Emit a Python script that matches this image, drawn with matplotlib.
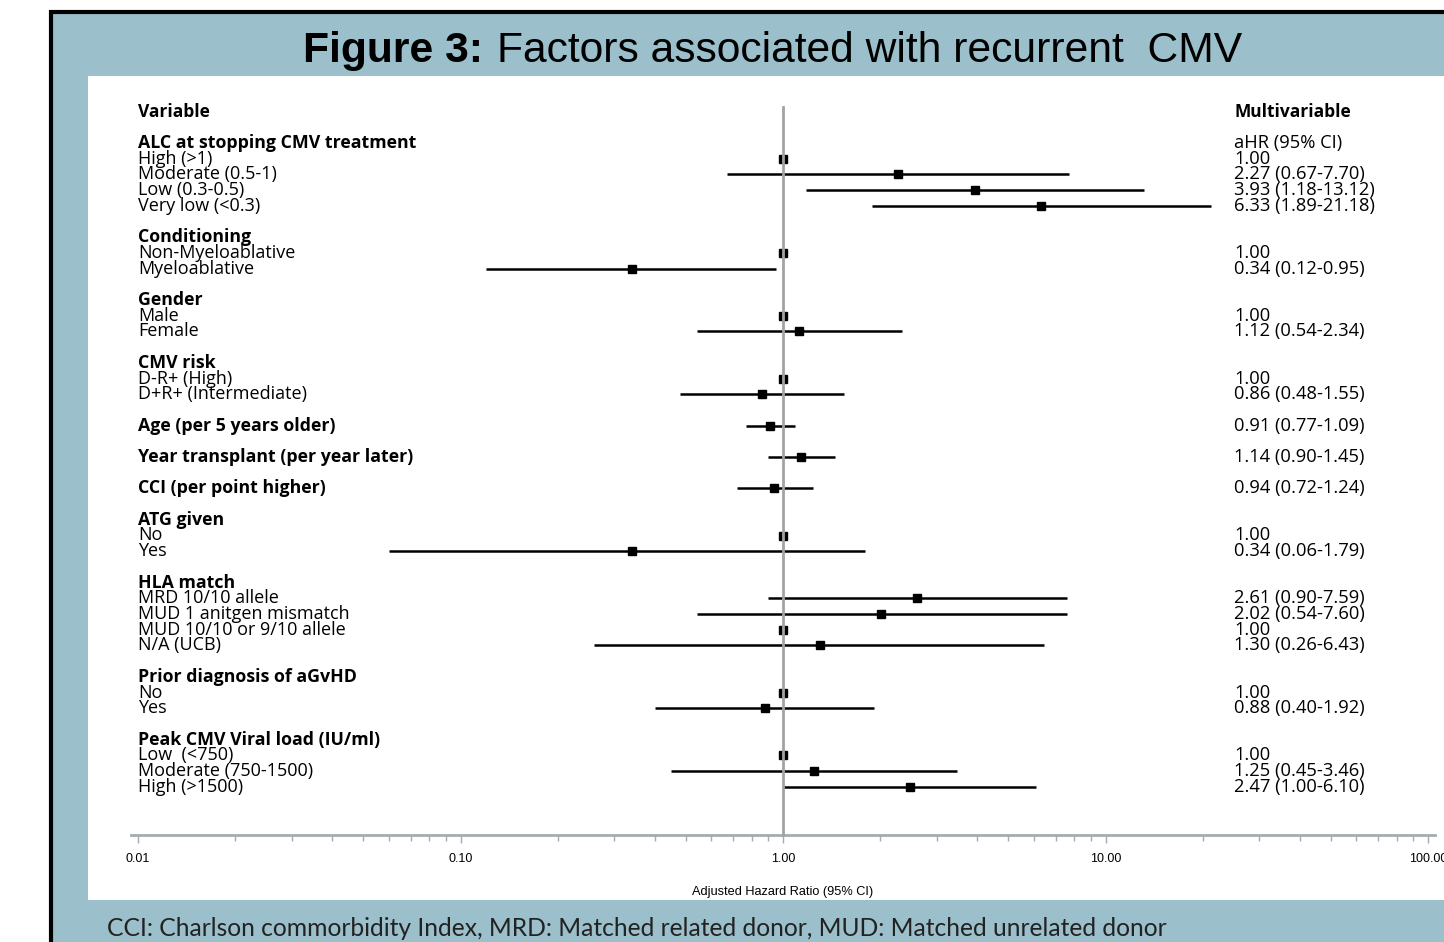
import numpy as np
import matplotlib
matplotlib.use('Agg')
import matplotlib.pyplot as plt
from matplotlib.patches import Rectangle
from matplotlib.transforms import blended_transform_factory

# rows of the forest plot (blank strings = spacer rows)
row_labels = ['ALC at stopping CMV treatment', 'High (>1)', 'Moderate (0.5-1)', 'Low (0.3-0.5)', 'Very low (<0.3)', '',
              'Conditioning', 'Non-Myeloablative', 'Myeloablative', '',
              'Gender', 'Male', 'Female', '',
              'CMV risk', 'D-R+ (High)', 'D+R+ (Intermediate)', '',
              'Age (per 5 years older)', '',
              'Year transplant (per year later)', '',
              'CCI (per point higher)', '',
              'ATG given', 'No', 'Yes', '',
              'HLA match', 'MRD 10/10 allele', 'MUD 1 anitgen mismatch', 'MUD 10/10 or 9/10 allele', 'N/A (UCB)', '',
              'Prior diagnosis of aGvHD', 'No', 'Yes', '',
              'Peak CMV Viral load (IU/ml)', 'Low  (<750)', 'Moderate (750-1500)', 'High (>1500)']
bold_rows = [0, 6, 10, 14, 18, 20, 22, 24, 28, 34, 38]
value_text = ['aHR (95% CI)', '1.00', '2.27 (0.67-7.70)', '3.93 (1.18-13.12)', '6.33 (1.89-21.18)', '',
              '', '1.00', '0.34 (0.12-0.95)', '',
              '', '1.00', '1.12 (0.54-2.34)', '',
              '', '1.00', '0.86 (0.48-1.55)', '',
              '0.91 (0.77-1.09)', '',
              '1.14 (0.90-1.45)', '',
              '0.94 (0.72-1.24)', '',
              '', '1.00', '0.34 (0.06-1.79)', '',
              '', '2.61 (0.90-7.59)', '2.02 (0.54-7.60)', '1.00', '1.30 (0.26-6.43)', '',
              '', '1.00', '0.88 (0.40-1.92)', '',
              '', '1.00', '1.25 (0.45-3.46)', '2.47 (1.00-6.10)']

# estimates (rows with a marker)
est_rows = [1, 2, 3, 4, 7, 8, 11, 12, 15, 16, 18, 20, 22, 25, 26, 29, 30, 31, 32, 35, 36, 39, 40, 41]
est = [1.00, 2.27, 3.93, 6.33, 1.00, 0.34, 1.00, 1.12, 1.00, 0.86, 0.91, 1.14, 0.94,
       1.00, 0.34, 2.61, 2.02, 1.00, 1.30, 1.00, 0.88, 1.00, 1.25, 2.47]
lo = [1.00, 0.67, 1.18, 1.89, 1.00, 0.12, 1.00, 0.54, 1.00, 0.48, 0.77, 0.90, 0.72,
      1.00, 0.06, 0.90, 0.54, 1.00, 0.26, 1.00, 0.40, 1.00, 0.45, 1.00]
hi = [1.00, 7.70, 13.12, 21.18, 1.00, 0.95, 1.00, 2.34, 1.00, 1.55, 1.09, 1.45, 1.24,
      1.00, 1.79, 7.59, 7.60, 1.00, 6.43, 1.00, 1.92, 1.00, 3.46, 6.10]

tick_vals = [0.01, 0.1, 1, 10, 100]
tick_text = ['0.01', '0.10', '1.00', '10.00', '100.00']

W, H = 1444, 942
blue = '#9bbfcb'
fig = plt.figure(figsize=(W / 100, H / 100), dpi=100)
fig.patch.set_facecolor('white')


def px(x0, y0, x1, y1):
    return (x0 / W, 1 - y1 / H), (x1 - x0) / W, (y1 - y0) / H


xy, w, h = px(51, 12, 1460, 960)
fig.add_artist(Rectangle(xy, w, h, transform=fig.transFigure, facecolor=blue,
                         edgecolor='black', linewidth=3.0, zorder=-10))
xy, w, h = px(88, 76, 1460, 900)
fig.add_artist(Rectangle(xy, w, h, transform=fig.transFigure, facecolor='white',
                         edgecolor='none', zorder=-9))

fig.text(483 / W, 1 - 51 / H, 'Figure 3:', ha='right', va='center', fontsize=30.7,
         fontweight='bold', family='Liberation Sans')
fig.text(497 / W, 1 - 51 / H, 'Factors associated with recurrent  CMV',
         ha='left', va='center', fontsize=30.7, family='Liberation Sans')
fig.text(107 / W, 1 - 929 / H,
         'CCI: Charlson commorbidity Index, MRD: Matched related donor, MUD: Matched unrelated donor',
         ha='left', va='center', fontsize=17.7, family='Lato', color='#222222')

# axes: x px 131..1435, y px 100..835
dec = 322.5
ax = fig.add_axes([131 / W, 1 - 835 / H, (1435 - 131) / W, (835 - 100) / H])
ax.set_facecolor('none')
ax.set_xscale('log')
ax.set_xlim(10 ** (-2 - 7 / dec), 10 ** (2 + 7 / dec))
step = 15.7
ax.set_ylim((835 - 143) / step, (100 - 143) / step)

for s in ['top', 'left', 'right']:
    ax.spines[s].set_visible(False)
ax.spines['bottom'].set_color('#a6abae')
ax.spines['bottom'].set_linewidth(2)
ax.set_yticks([])
ax.set_xticks(tick_vals)
ax.set_xticklabels(tick_text, fontsize=9, family='Liberation Sans')
ax.tick_params(axis='x', which='major', length=6, width=1, color='#a6abae', pad=7)
ax.tick_params(axis='x', which='minor', length=4, width=1, color='#a6abae')
ax.set_xlabel('Adjusted Hazard Ratio (95% CI)', fontsize=9.2, family='Liberation Sans',
              labelpad=15)

est_a = np.array(est)
err = [est_a - np.array(lo), np.array(hi) - est_a]
ax.errorbar(est, est_rows, xerr=err, fmt='s', color='black', ms=6.3, elinewidth=1.8,
            capsize=0, zorder=3)
ax.plot([1, 1], [(107 - 143) / step, (835 - 143) / step], color='#a0a4a7', lw=2, zorder=4,
        clip_on=False)

tr = blended_transform_factory(fig.transFigure, ax.transData)
ax.text(138 / W, -2, 'Variable', transform=tr, fontsize=12.5, fontweight='bold',
        family='Open Sans', va='center', ha='left')
ax.text(1234 / W, -2, 'Multivariable', transform=tr, fontsize=12.5, fontweight='bold',
        family='Open Sans', va='center', ha='left')
for i, lab in enumerate(row_labels):
    if lab:
        is_bold = i in bold_rows
        ax.text(138 / W, i, lab, transform=tr, fontsize=12.75 if is_bold else 13,
                fontweight='bold' if is_bold else 'normal',
                family='Open Sans', va='center', ha='left')
    if value_text[i]:
        ax.text(1234 / W, i, value_text[i], transform=tr, fontsize=13.2,
                family='Open Sans', va='center', ha='left')

fig.savefig('out.png', dpi=100)
